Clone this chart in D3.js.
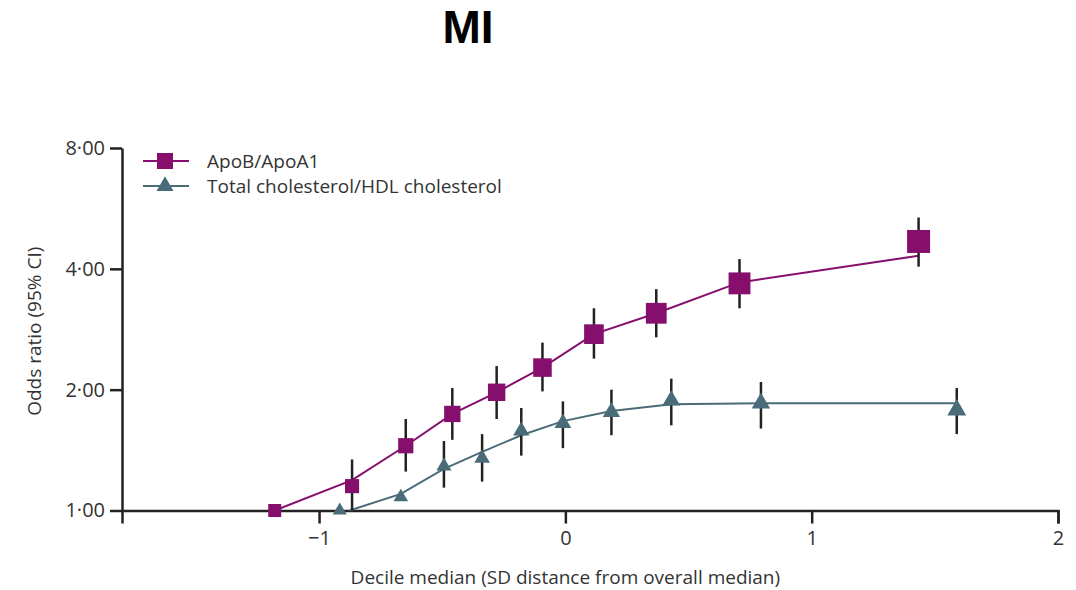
<!DOCTYPE html>
<html>
<head>
<meta charset="utf-8">
<script src="https://cdn.jsdelivr.net/npm/d3@7"></script>
<style>
  body { margin: 0; background: #fff; }
  text { font-family: "Open Sans", Lato, sans-serif; fill: #333; }
</style>
</head>
<body>
<svg id="chart" width="1076" height="590"></svg>
<script>
// Decile medians (SD from overall median) and odds ratios.
const seriesNames = ['ApoB/ApoA1', 'Total cholesterol/HDL cholesterol'];

const apoX = [-1.18, -0.866, -0.648, -0.459, -0.279, -0.093, 0.116, 0.369, 0.707, 1.434];
const apoOR = [1.00, 1.15, 1.45, 1.74, 1.97, 2.27, 2.75, 3.10, 3.68, 4.68];
const apoLo = [null, 1.00, 1.25, 1.50, 1.69, 1.98, 2.39, 2.70, 3.19, 4.05];
const apoHi = [null, 1.34, 1.69, 2.02, 2.29, 2.62, 3.19, 3.56, 4.23, 5.37];
// fitted curve drawn through the deciles
const apoFitX = [-1.18, -0.866, -0.648, -0.459, -0.279, -0.093, 0.116, 0.369, 0.707, 1.434];
const apoFit = [1.00, 1.19, 1.45, 1.74, 1.97, 2.27, 2.75, 3.10, 3.70, 4.31];

const tcX = [-0.916, -0.668, -0.493, -0.338, -0.179, -0.010, 0.187, 0.430, 0.794, 1.589];
const tcOR = [1.00, 1.08, 1.29, 1.35, 1.58, 1.65, 1.76, 1.88, 1.85, 1.78];
const tcLo = [null, null, 1.14, 1.18, 1.37, 1.43, 1.54, 1.63, 1.60, 1.55];
const tcHi = [null, null, 1.49, 1.55, 1.80, 1.87, 2.00, 2.13, 2.09, 2.02];
const tcFitX = [-0.876, -0.668, -0.493, -0.338, -0.179, -0.010, 0.187, 0.430, 0.794, 1.589];
const tcFit = [1.00, 1.10, 1.27, 1.40, 1.54, 1.67, 1.77, 1.84, 1.85, 1.85];

const xTicks = [-1, 0, 1, 2];
const yTicks = [1, 2, 4, 8];

const purple = '#860f6d';
const teal = '#4a6c78';
const ink = '#222';

const svg = d3.select('#chart');
const margin = { left: 122, right: 18, top: 148, bottom: 79.5 };
const W = 1076, H = 590;
const fs = '19px';

const x = d3.scaleLinear().domain([-1.8, 2]).range([margin.left, W - margin.right]);
const y = d3.scaleLog().base(2).domain([1, 8]).range([H - margin.bottom, margin.top]);

// title
svg.append('text')
  .attr('x', 468).attr('y', 43)
  .attr('text-anchor', 'middle')
  .style('font-family', '"Liberation Sans", Arial, sans-serif')
  .style('font-weight', 'bold')
  .style('font-size', '46px')
  .style('fill', '#000')
  .text('MI');

// axes
const yAxis = svg.append('g')
  .attr('transform', `translate(${margin.left},0)`)
  .call(d3.axisLeft(y).tickValues(yTicks).tickSize(12).tickSizeOuter(0).tickPadding(5)
    .tickFormat(d => d.toFixed(2).replace('.', '·')));

const xAxis = svg.append('g')
  .attr('transform', `translate(0,${y(1)})`)
  .call(d3.axisBottom(x).tickValues(xTicks).tickSize(13).tickSizeOuter(13).tickPadding(7)
    .tickFormat(d3.format('d')));

[yAxis, xAxis].forEach(g => {
  g.selectAll('path.domain').attr('stroke', ink).attr('stroke-width', 2.5);
  g.selectAll('.tick line').attr('stroke', ink).attr('stroke-width', 2.5);
  g.selectAll('.tick text').style('font-size', '20px').style('font-family', '"Open Sans", sans-serif').attr('fill', '#333');
});

svg.append('text')
  .attr('transform', `translate(41,${(y(1) + y(8)) / 2 + 2}) rotate(-90)`)
  .attr('text-anchor', 'middle')
  .style('font-size', fs)
  .text('Odds ratio (95% CI)');

svg.append('text')
  .attr('x', x(0)).attr('y', 584)
  .attr('text-anchor', 'middle')
  .style('font-size', fs)
  .text('Decile median (SD distance from overall median)');

const zip = (xs, ys) => xs.map((v, i) => [v, ys[i]]);
const line = d3.line().x(d => x(d[0])).y(d => y(d[1]));

const series = [
  { name: seriesNames[1], color: teal, xs: tcX, or: tcOR, lo: tcLo, hi: tcHi,
    fit: zip(tcFitX, tcFit), shape: d3.symbolTriangle, size: d3.scaleLinear().domain([0, 9]).range([14, 19]) },
  { name: seriesNames[0], color: purple, xs: apoX, or: apoOR, lo: apoLo, hi: apoHi,
    fit: zip(apoFitX, apoFit), shape: d3.symbolSquare, size: d3.scaleLinear().domain([0, 9]).range([13, 23]) },
];

const area = (shape, w) => shape === d3.symbolSquare ? w * w : Math.sqrt(3) / 4 * w * w;

series.forEach(s => {
  svg.append('path')
    .attr('d', line(s.fit))
    .attr('fill', 'none')
    .attr('stroke', s.color)
    .attr('stroke-width', 2);

  const pts = s.xs.map((v, i) => ({ x: v, or: s.or[i], lo: s.lo[i], hi: s.hi[i], i }));

  svg.append('g').selectAll('line')
    .data(pts.filter(p => p.lo != null))
    .join('line')
    .attr('x1', p => x(p.x)).attr('x2', p => x(p.x))
    .attr('y1', p => y(p.lo)).attr('y2', p => y(p.hi))
    .attr('stroke', ink).attr('stroke-width', 2.5);

  svg.append('g').selectAll('path')
    .data(pts)
    .join('path')
    .attr('transform', p => `translate(${x(p.x)},${y(p.or)})`)
    .attr('d', p => d3.symbol(s.shape, area(s.shape, s.size(p.i)))())
    .attr('fill', s.color);
});

// legend
const legend = svg.append('g').attr('transform', 'translate(143,161)');
[series[1], series[0]].forEach((s, k) => {
  const row = legend.append('g').attr('transform', `translate(0,${k * 25})`);
  row.append('line').attr('x1', 0).attr('x2', 46).attr('stroke', s.color).attr('stroke-width', 2);
  row.append('path')
    .attr('transform', 'translate(22,0)')
    .attr('d', d3.symbol(s.shape, area(s.shape, s.shape === d3.symbolSquare ? 16 : 17))())
    .attr('fill', s.color);
  row.append('text')
    .attr('x', 64).attr('y', 0).attr('dy', '0.35em')
    .style('font-size', fs)
    .text(s.name);
});
</script>
</body>
</html>
